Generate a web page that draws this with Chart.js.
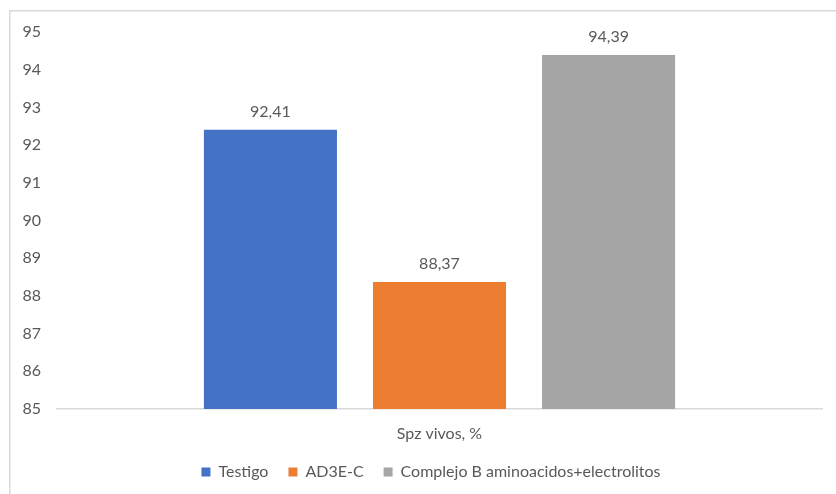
<!DOCTYPE html>
<html>
<head>
<meta charset="utf-8">
<script src="https://cdn.jsdelivr.net/npm/chart.js@4.4.1/dist/chart.umd.min.js"></script>
<style>
  html, body { margin: 0; padding: 0; background: #fff; }
  #wrap { position: relative; width: 836px; height: 494px; }
</style>
</head>
<body>
<div id="wrap"><canvas id="spzchart" width="836" height="494"></canvas></div>
<script>
const categories = ['Spz vivos, %']
const seriesNames = ['Testigo', 'AD3E-C', 'Complejo B aminoacidos+electrolitos']
const testigo = [92.41]
const ad3ec = [88.37]
const complejoB = [94.39]
const yTicks = [85, 86, 87, 88, 89, 90, 91, 92, 93, 94, 95]

const textColor = '#595959'
const fontFamily = 'Lato, "Noto Sans", sans-serif'
const fontSize = 16

// outer frame of the chart (left and top edges only are inside the canvas)
const framePlugin = {
    id: 'frame',
    beforeDraw(chart){
        const ctx = chart.ctx
        ctx.save()
        ctx.strokeStyle = '#d9d9d9'
        ctx.lineWidth = 1.5
        ctx.beginPath()
        ctx.moveTo(9.75, 494)
        ctx.lineTo(9.75, 10.75)
        ctx.lineTo(836, 10.75)
        ctx.stroke()
        ctx.restore()
    }
}

// legend sits centred under the whole frame, not just the canvas
const legendShift = {
    id: 'legendShift',
    afterLayout(chart){
        if(chart.legend){
            chart.legend.left += 20
            chart.legend.right += 20
        }
    }
}

// value labels above each bar, with decimal comma
const valueLabels = {
    id: 'valueLabels',
    afterDatasetsDraw(chart){
        const ctx = chart.ctx
        ctx.save()
        ctx.fillStyle = textColor
        ctx.font = fontSize + 'px ' + fontFamily
        ctx.textAlign = 'center'
        ctx.textBaseline = 'middle'
        chart.data.datasets.forEach(function(ds, i){
            chart.getDatasetMeta(i).data.forEach(function(bar, j){
                let txt = ds.data[j].toFixed(2).replace('.', ',')
                ctx.fillText(txt, bar.x, bar.y - 18)
            })
        })
        ctx.restore()
    }
}

new Chart(document.getElementById('spzchart'), {
    type: 'bar',
    data: {
        labels: categories,
        datasets: [
            { label: seriesNames[0], data: testigo, backgroundColor: '#4472c4' },
            { label: seriesNames[1], data: ad3ec, backgroundColor: '#ed7d31' },
            { label: seriesNames[2], data: complejoB, backgroundColor: '#a5a5a5' }
        ]
    },
    options: {
        responsive: false,
        animation: false,
        devicePixelRatio: 1,
        categoryPercentage: 0.663,
        barPercentage: 0.787,
        layout: { padding: { top: 32, right: 14, bottom: 4, left: 0 } },
        plugins: {
            tooltip: { enabled: false },
            legend: {
                position: 'bottom',
                labels: {
                    color: textColor,
                    font: { family: fontFamily, size: fontSize },
                    boxWidth: 9,
                    boxHeight: 9,
                    padding: 20
                }
            }
        },
        scales: {
            x: {
                afterFit(scale){ scale.height = 35 },
                grid: { display: false, drawTicks: false },
                border: { display: true, color: '#d9d9d9', width: 1.5 },
                ticks: { color: textColor, font: { family: fontFamily, size: fontSize }, padding: 15 }
            },
            y: {
                min: yTicks[0],
                max: yTicks[yTicks.length - 1],
                afterFit(scale){ scale.width = 57 },
                afterBuildTicks(scale){ scale.ticks = yTicks.map(v => ({ value: v })) },
                grid: { display: false, drawTicks: false },
                border: { display: false },
                ticks: { color: textColor, font: { family: fontFamily, size: fontSize }, padding: 16 }
            }
        }
    },
    plugins: [framePlugin, legendShift, valueLabels]
})
</script>
</body>
</html>
